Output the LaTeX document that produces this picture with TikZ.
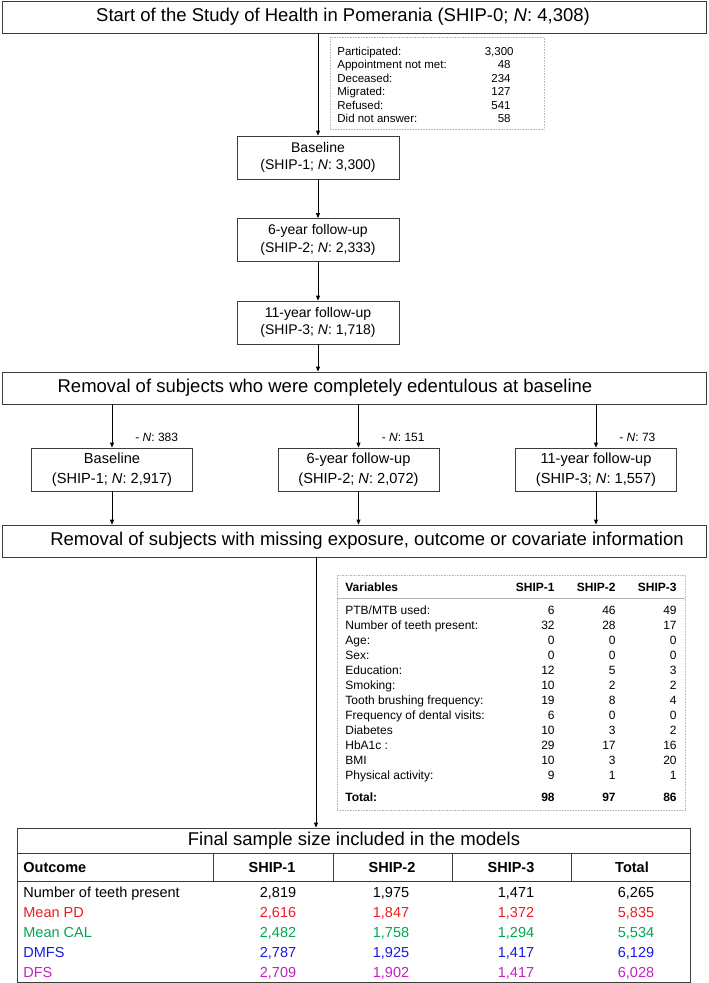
\documentclass[tikz,border=0pt]{standalone}
\usepackage{fontspec}
\setmainfont{Liberation Sans}
\usetikzlibrary{arrows.meta}

\definecolor{frame}{RGB}{60,60,60}
\definecolor{pdred}{RGB}{236,28,36}
\definecolor{calgreen}{RGB}{0,166,81}
\definecolor{dmfsblue}{RGB}{25,25,225}
\definecolor{dfsviolet}{RGB}{196,32,196}

\begin{document}
\begin{tikzpicture}[x=1bp, y=-1bp, line width=0.8bp,
    >={Triangle[length=5bp, width=4bp]},
    big/.style={font=\fontsize{18.5bp}{22bp}\selectfont},
    wide/.style={draw=frame, minimum width=704bp, minimum height=32bp, inner sep=0pt},
    flow/.style={draw=frame, minimum width=162bp, minimum height=43bp, inner sep=0pt,
        align=center, font=\fontsize{14bp}{17.5bp}\selectfont},
    flowb/.style={flow, minimum width=161bp, font=\fontsize{14.6bp}{20bp}\selectfont},
    dotbox/.style={draw=gray!55, densely dotted, line width=0.6bp, inner sep=0pt},
    lost/.style={font=\fontsize{11.5bp}{13.5bp}\selectfont, inner sep=0pt},
    cell/.style={font=\fontsize{12bp}{15bp}\selectfont, inner sep=0pt},
    cellb/.style={font=\fontsize{12bp}{15bp}\selectfont\bfseries, inner sep=0pt},
    res/.style={font=\fontsize{14.5bp}{17bp}\selectfont, inner sep=0pt},
    resb/.style={font=\fontsize{14.5bp}{17bp}\selectfont\bfseries, inner sep=0pt},
    link/.style={->, draw=black}]
    \useasboundingbox (0,0) rectangle (709,983);

    % start of the study
    \node [wide, label={[big, xshift=-11bp]center:{Start of the Study of Health in Pomerania (SHIP-0; \textit{N}: 4,308)}}] (start) at (354,17) {};

    % participation of SHIP-0
    \node [dotbox, minimum width=214bp, minimum height=92bp] (lostbox) at (437,83) {};
    \foreach \lab/\num/\x [count=\i] in {Participated:/{3,300}/514, Appointment not met:/48/511,
        Deceased:/234/511, Migrated:/127/511, Refused:/541/511, Did not answer:/58/511} {
        \node [lost, anchor=base west] (lost-l\i) at (337,{55.1+13.5*(\i-1)}) {\lab};
        \node [lost, anchor=base east] (lost-n\i) at (\x,{55.1+13.5*(\i-1)}) {\num};
    }

    % the three waves
    \node [flow] (ship1) at (318,157.5) {Baseline\\(SHIP-1; \textit{N}: 3,300)};
    \node [flow] (ship2) at (318,240) {6-year follow-up\\(SHIP-2; \textit{N}: 2,333)};
    \node [flow] (ship3) at (318,322.5) {11-year follow-up\\(SHIP-3; \textit{N}: 1,718)};

    % edentulous subjects
    \node [wide, label={[big, xshift=-29bp]center:{Removal of subjects who were completely edentulous at baseline}}] (edent) at (354,388) {};

    \node [flowb] (dent1) at (112,469.5) {Baseline\\(SHIP-1; \textit{N}: 2,917)};
    \node [flowb] (dent2) at (358.5,469.5) {6-year follow-up\\(SHIP-2; \textit{N}: 2,072)};
    \node [flowb] (dent3) at (596,469.5) {11-year follow-up\\(SHIP-3; \textit{N}: 1,557)};
    \foreach \i/\n in {1/383, 2/151, 3/73}
        \node [cell, anchor=base west] (drop\i) at ([shift={(23,-5.7)}]dent\i.north) {- \textit{N}: \n};

    % missing information
    \node [wide, label={[big, xshift=13bp]center:{Removal of subjects with missing exposure, outcome or covariate information}}] (miss) at (354,541) {};

    % table of missing values
    \node [dotbox, minimum width=348bp, minimum height=235bp] (misstab) at (511,692.5) {};
    \draw [draw=gray!60, line width=0.6bp] (337,598) -- (685,598);
    \node [cellb, anchor=base west] (var-h) at (345,591.3) {Variables};
    \foreach \col/\x in {1/555, 2/616, 3/677}
        \node [cellb, anchor=base east] (var-h\col) at (\x,591.3) {SHIP-\col};
    \foreach \lab/\va/\vb/\vc [count=\i] in {{PTB/MTB used:}/6/46/49,
        Number of teeth present:/32/28/17, Age:/0/0/0, Sex:/0/0/0,
        Education:/12/5/3, Smoking:/10/2/2, Tooth brushing frequency:/19/8/4,
        Frequency of dental visits:/6/0/0, Diabetes/10/3/2, HbA1c :/29/17/16,
        BMI/10/3/20, Physical activity:/9/1/1} {
        \node [cell, anchor=base west] (var\i) at (345,{614.3+15*(\i-1)}) {\lab};
        \node [cell, anchor=base east] (var\i-1) at (555,{614.3+15*(\i-1)}) {\va};
        \node [cell, anchor=base east] (var\i-2) at (616,{614.3+15*(\i-1)}) {\vb};
        \node [cell, anchor=base east] (var\i-3) at (677,{614.3+15*(\i-1)}) {\vc};
    }
    \node [cellb, anchor=base west] (tot) at (345,801.3) {Total:};
    \node [cellb, anchor=base east] (tot-1) at (555,801.3) {98};
    \node [cellb, anchor=base east] (tot-2) at (616,801.3) {97};
    \node [cellb, anchor=base east] (tot-3) at (677,801.3) {86};

    % final sample
    \node [draw=frame, minimum width=673bp, minimum height=154bp, inner sep=0pt] (final) at (353.5,905) {};
    \node [big] (final-t) at (354,840.5) {Final sample size included in the models};
    \draw [draw=frame] (17,853) -- (690,853);
    \draw [draw=frame] (17,881) -- (690,881);
    \foreach \x in {213,333,452,571}
        \draw [draw=frame] (\x,853) -- (\x,881);
    \node [resb, anchor=base west] (out-h) at (23,872.2) {Outcome};
    \foreach \lab/\x in {SHIP-1/272, SHIP-2/392, SHIP-3/511, Total/632}
        \node [resb, anchor=base] (out-h\x) at (\x,872.2) {\lab};
    \foreach \lab/\col/\va/\vb/\vc/\tot [count=\i] in {
        Number of teeth present/black/{2,819}/{1,975}/{1,471}/{6,265},
        Mean PD/pdred/{2,616}/{1,847}/{1,372}/{5,835},
        Mean CAL/calgreen/{2,482}/{1,758}/{1,294}/{5,534},
        DMFS/dmfsblue/{2,787}/{1,925}/{1,417}/{6,129},
        DFS/dfsviolet/{2,709}/{1,902}/{1,417}/{6,028}} {
        \node [res, text=\col, anchor=base west] (out\i) at (23,{897.2+20*(\i-1)}) {\lab};
        \node [res, text=\col, anchor=base] (out\i-1) at (278,{897.2+20*(\i-1)}) {\va};
        \node [res, text=\col, anchor=base] (out\i-2) at (391,{897.2+20*(\i-1)}) {\vb};
        \node [res, text=\col, anchor=base] (out\i-3) at (516,{897.2+20*(\i-1)}) {\vc};
        \node [res, text=\col, anchor=base] (out\i-4) at (636,{897.2+20*(\i-1)}) {\tot};
    }

    % connections
    \draw [link] (start.south -| ship1.north) -- (ship1.north);
    \draw [link] (ship1) -- (ship2);
    \draw [link] (ship2) -- (ship3);
    \draw [link] (ship3) -- (ship3 |- edent.north);
    \foreach \i in {1,2,3} {
        \draw [link] (edent.south -| dent\i.north) -- (dent\i.north);
        \draw [link] (dent\i) -- (dent\i |- miss.north);
    }
    \coordinate (down) at (316,0);
    \draw [link] (miss.south -| down) -- (final.north -| down);
\end{tikzpicture}
\end{document}
